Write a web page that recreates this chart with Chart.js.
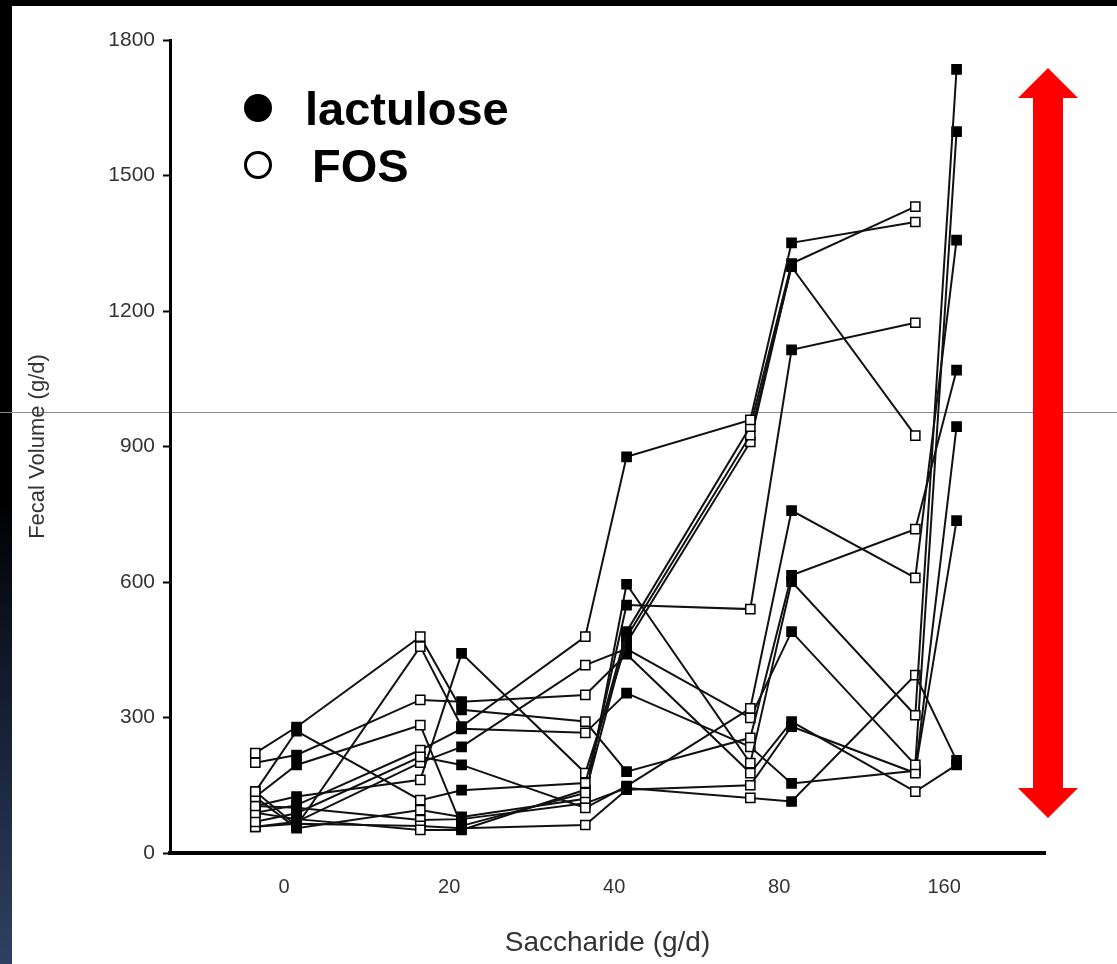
<!DOCTYPE html>
<html>
<head>
<meta charset="utf-8">
<title>Fecal volume vs saccharide dose</title>
<script src="https://cdn.jsdelivr.net/npm/chart.js@4.4.0/dist/chart.umd.min.js"></script>
<style>
  html, body { margin: 0; padding: 0; }
  body {
    width: 1117px; height: 964px; position: relative; overflow: hidden;
    background: linear-gradient(180deg, #000 0%, #000 52%, #141d30 72%, #2f4062 100%);
  }
  #paper { position: absolute; left: 12px; top: 6px; width: 1105px; height: 958px; background: #fff; }
  #scanline { position: absolute; left: 0; top: 412px; width: 1117px; height: 1px; background: #8c8c8c; }
  #wrap { position: absolute; left: 12px; top: 6px; width: 1105px; height: 958px; }
  .key {
    position: absolute; font-family: 'Liberation Sans', Arial, sans-serif;
    font-weight: bold; font-size: 47px; line-height: 47px; color: #000; white-space: nowrap;
  }
  .dot { position: absolute; width: 28px; height: 28px; border-radius: 50%; box-sizing: border-box; }
</style>
</head>
<body>
<div id="paper"></div>
<div id="scanline"></div>
<div id="wrap"><canvas id="fecalChart" width="1105" height="958"></canvas></div>

<div class="dot" style="left:244px; top:94px; background:#000;"></div>
<div class="key" style="left:305px; top:85px;">lactulose</div>
<div class="dot" style="left:244px; top:151px; border:3.5px solid #000; background:#fff;"></div>
<div class="key" style="left:312px; top:142px;">FOS</div>

<script>
// dose categories on the x axis
const doses = ['0', '20', '40', '80', '160'];

// fecal volume (g/d) per subject, in order FOS, lactulose at each dose
// (open square = FOS, filled square = lactulose); short rows = dropped out
const subjA = [136, 60, 457, 280, 479, 877, 959, 1351, 1397];
const subjB = [136, 270, 117, 139, 155, 490, 944, 1305, 1431];
const subjC = [124, 195, 283, 60, 133, 478, 925, 1298, 924];
const subjD = [104, 125, 162, 442, 177, 465, 910, 1302];
const subjE = [89, 75, 51, 51, 140, 549, 540, 1114, 1174];
const subjF = [69, 88, 213, 195, 100, 148, 320, 758, 609, 1357];
const subjG = [221, 279, 479, 317, 291, 180, 255, 615, 717, 1069];
const subjH = [124, 55, 95, 80, 120, 595, 199, 601, 305, 1735];
const subjI = [58, 69, 200, 235, 416, 452, 299, 490, 195, 1597];
const subjJ = [200, 217, 339, 335, 350, 440, 177, 291, 136, 195];
const subjK = [58, 65, 60, 55, 62, 140, 150, 280, 177, 944];
const subjL = [89, 106, 228, 275, 266, 354, 235, 154, 182, 736];
const subjM = [104, 100, 73, 75, 110, 144, 122, 114, 394, 205];

const subjects = [subjA, subjB, subjC, subjD, subjE, subjF, subjG,
                  subjH, subjI, subjJ, subjK, subjL, subjM];

const pairGap = 0.125;   // FOS drawn left of the dose, lactulose right of it

function toPoints(vals) {
    return vals.map((v, i) => ({
        x: Math.floor(i / 2) + (i % 2 ? pairGap : -pairGap),
        y: v
    }));
}

const datasets = subjects.map((vals, n) => ({
    label: 'subject ' + (n + 1),
    data: toPoints(vals),
    borderColor: '#111',
    borderWidth: 2,
    pointStyle: 'rect',
    pointRadius: 6.5,
    pointBorderWidth: 1.5,
    pointBorderColor: '#000',
    pointBackgroundColor: vals.map((v, i) => (i % 2 ? '#000' : '#fff')),
    tension: 0
}));

// big red double arrow on the right
const redArrow = {
    id: 'redArrow',
    afterDraw(chart) {
        const ctx = chart.ctx;
        const cx = 1036, shaft = 15, head = 30, headLen = 30;
        const top = 62, bottom = 812;
        ctx.save();
        ctx.fillStyle = '#ff0000';
        ctx.beginPath();
        ctx.moveTo(cx, top);
        ctx.lineTo(cx + head, top + headLen);
        ctx.lineTo(cx + shaft, top + headLen);
        ctx.lineTo(cx + shaft, bottom - headLen);
        ctx.lineTo(cx + head, bottom - headLen);
        ctx.lineTo(cx, bottom);
        ctx.lineTo(cx - head, bottom - headLen);
        ctx.lineTo(cx - shaft, bottom - headLen);
        ctx.lineTo(cx - shaft, top + headLen);
        ctx.lineTo(cx - head, top + headLen);
        ctx.closePath();
        ctx.fill();
        ctx.restore();
    }
};

Chart.defaults.font.family = "'Liberation Sans', Arial, sans-serif";
Chart.defaults.color = '#333';

new Chart(document.getElementById('fecalChart'), {
    type: 'line',
    data: { datasets: datasets },
    options: {
        responsive: false,
        animation: false,
        layout: { padding: { top: 34, right: 72, left: 0, bottom: 0 } },
        plugins: { legend: { display: false }, tooltip: { enabled: false } },
        scales: {
            x: {
                type: 'linear',
                min: -0.642,
                max: 4.661,
                afterFit: (scale) => { scale.height = 111; },
                afterBuildTicks: (scale) => {
                    scale.ticks = doses.map((d, i) => ({ value: i + 0.05 }));
                },
                ticks: {
                    padding: 22,
                    font: { size: 20 },
                    color: '#333',
                    callback: (v, i) => doses[i]
                },
                grid: { display: false, drawTicks: false },
                border: { display: true, width: 4, color: '#000' },
                title: {
                    display: true,
                    text: 'Saccharide (g/d)',
                    font: { size: 28 },
                    color: '#333',
                    padding: { top: 0, bottom: 4 }
                }
            },
            y: {
                min: 0,
                max: 1800,
                afterFit: (scale) => { scale.width = 158; },
                ticks: {
                    stepSize: 300, padding: 8, font: { size: 21 }, color: '#333',
                    callback: (v) => String(v)
                },
                grid: {
                    display: true, drawOnChartArea: false, drawTicks: true,
                    tickLength: 7, tickWidth: 2, tickColor: '#000'
                },
                border: { display: true, width: 3, color: '#000' },
                title: {
                    display: true,
                    text: 'Fecal Volume (g/d)',
                    font: { size: 22 },
                    color: '#333',
                    padding: { top: 13, bottom: 0 }
                }
            }
        }
    },
    plugins: [redArrow]
});
</script>
</body>
</html>
